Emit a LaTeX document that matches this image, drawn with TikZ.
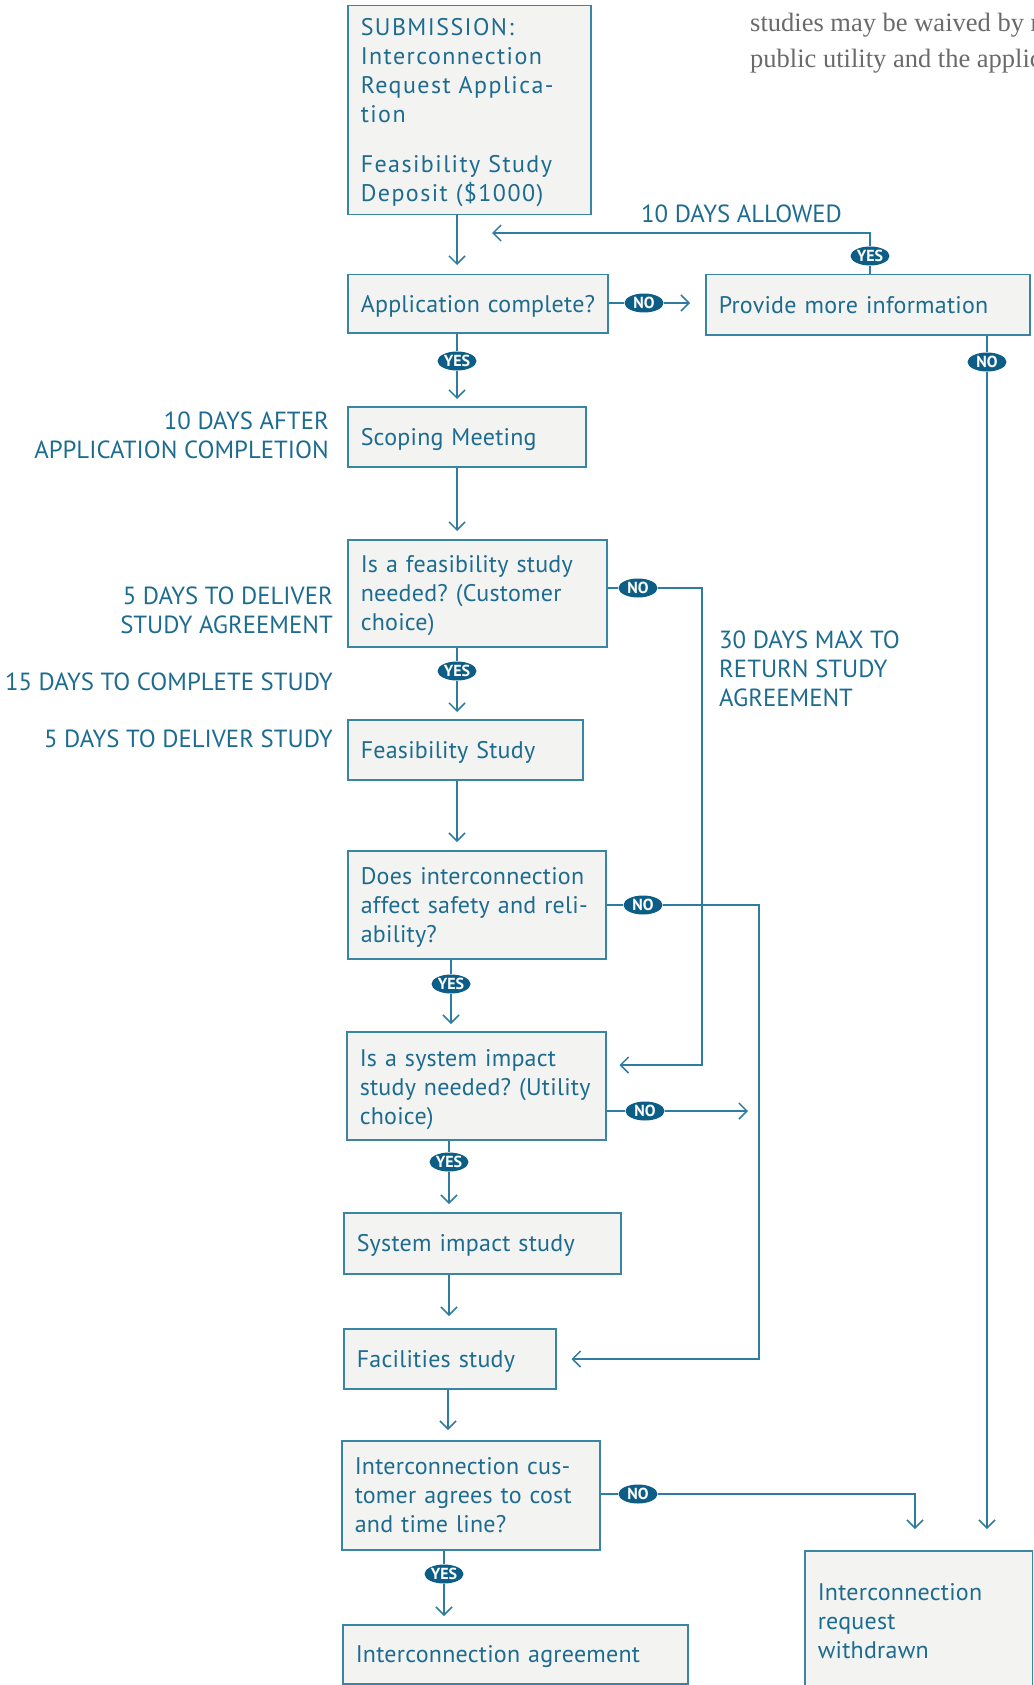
\documentclass[tikz,border=0pt]{standalone}
\usepackage{fontspec}
\setmainfont{PT Sans}
\newfontfamily\boxfont[LetterSpace=1]{PT Sans}
\newfontfamily\boxwidefont[LetterSpace=6]{PT Sans}
\newfontfamily\pageserif{Liberation Serif}
\usetikzlibrary{arrows.meta,shapes.geometric}
\definecolor{flowline}{HTML}{2E7DA0}
\definecolor{flowtext}{HTML}{1D6C90}
\definecolor{flowbadge}{HTML}{0D5E86}
\definecolor{boxfill}{HTML}{F3F3F1}
\definecolor{boxedge}{HTML}{3A84A4}
\definecolor{pagegray}{HTML}{6A6A6A}
\frenchspacing
\begin{document}
\begin{tikzpicture}[x=1pt,y=-1pt,
  flowbox/.style={draw=boxedge, line width=1.5pt, fill=boxfill, rectangle,
    anchor=north west, inner xsep=13pt, inner ysep=0pt, align=left,
    text height=16.8pt, text depth=0pt,
    text=flowtext, font=\boxfont\fontsize{24}{29}\selectfont},
  % depth from the first baseline down to the last one
  rows/.style={text depth=#1},
  badge/.style={ellipse, fill=flowbadge, text=white, inner sep=0pt,
    minimum width=39pt, minimum height=19pt,
    font=\fontsize{16}{16}\selectfont\bfseries},
  link/.style={draw=flowline, line width=1.5pt},
  arr/.style={link, -{Straight Barb[length=8pt,width=16pt,line width=1.5pt]}},
  note/.style={text=flowtext, inner sep=0pt, font=\fontsize{24.8}{29}\selectfont},
  pageline/.style={anchor=base west, inner sep=0pt, text=pagegray,
    font=\pageserif\fontsize{26.5}{37}\selectfont},
]
\useasboundingbox (0,0) rectangle (1033,1685);
\clip (0,0) rectangle (1033,1685);

% running text of the page, cut by the right margin
\node[pageline] (pagetext1) at (750,32) {studies may be waived by mutual};
\node[pageline] (pagetext2) at (750,68) {public utility and the applicant};

% process boxes
\node[flowbox, rows=166pt, font=\boxwidefont\fontsize{24}{29}\selectfont,
      minimum width=243pt, minimum height=209pt, text width=217pt] (b1) at (347,5)
  {SUBMISSION:\\Interconnection\\Request Applica-\\tion\\[21pt]Feasibility Study\\Deposit (\$1000)};
\node[flowbox, minimum width=260pt, minimum height=58pt, text width=234pt] (b2) at (347,274)
  {Application complete?};
\node[flowbox, minimum width=324pt, minimum height=60pt, text width=298pt] (b3) at (705,274)
  {Provide more information};
\node[flowbox, minimum width=238pt, minimum height=60pt, text width=212pt] (b4) at (347,406)
  {Scoping Meeting};
\node[flowbox, rows=58pt, minimum width=259pt, minimum height=107pt, text width=233pt] (b5) at (347,539)
  {Is a feasibility study\\needed? (Customer\\choice)};
\node[flowbox, minimum width=235pt, minimum height=60pt, text width=209pt] (b6) at (347,719)
  {Feasibility Study};
\node[flowbox, rows=58pt, minimum width=258pt, minimum height=108pt, text width=232pt] (b7) at (347,850)
  {Does interconnection\\affect safety and reli-\\ability?};
\node[flowbox, rows=56pt, minimum width=259pt, minimum height=108pt, text width=233pt] (b8) at (346,1031)
  {Is a system impact\\study needed? (Utility\\choice)};
\node[flowbox, minimum width=277pt, minimum height=61pt, text width=251pt] (b9) at (343,1212)
  {System impact study};
\node[flowbox, minimum width=212pt, minimum height=60pt, text width=186pt] (b10) at (343,1328)
  {Facilities study};
\node[flowbox, rows=58pt, minimum width=258pt, minimum height=109pt, text width=232pt] (b11) at (341,1440)
  {Interconnection cus-\\tomer agrees to cost\\and time line?};
\node[flowbox, minimum width=345pt, minimum height=59pt, text width=319pt] (b12) at (342,1624)
  {Interconnection agreement};
\node[flowbox, rows=58pt, minimum width=228pt, minimum height=140pt, text width=202pt] (b13) at (804,1550)
  {Interconnection\\request\\withdrawn};

% decision badges
\node[badge] (y2) at (457,361) {YES};
\node[badge] (n2) at (644,303) {NO};
\node[badge] (y3) at (870,256) {YES};
\node[badge] (n3) at (987,362) {NO};
\node[badge] (y5) at (457,671) {YES};
\node[badge] (n5) at (638,588) {NO};
\node[badge] (y7) at (451,984) {YES};
\node[badge] (n7) at (643,905) {NO};
\node[badge] (y8) at (449,1162) {YES};
\node[badge] (n8) at (645,1111) {NO};
\node[badge] (y11) at (444,1574) {YES};
\node[badge] (n11) at (638,1494) {NO};

% routing points
\coordinate (colA) at (457,0);
\coordinate (colC) at (449,0);
\coordinate (colD) at (448,0);
\coordinate (loopTop) at (870,233);
\coordinate (loopEnd) at (492,233);
\coordinate (fsTurn) at (702,588);
\coordinate (fsDown) at (702,1065);
\coordinate (safeTurn) at (759,905);
\coordinate (safeDown) at (759,1359);
\coordinate (sisEnd) at (748,1111);
\coordinate (agreeTurn) at (915,1494);

% main column
\draw[arr, shorten >=9pt] (b1.south -| colA) -- (b2.north -| colA);
\draw[link] (b2.south -| y2) -- (y2);
\draw[arr, shorten >=7pt] (y2) -- (b4.north -| y2);
\draw[arr, shorten >=8pt] (b4.south -| colA) -- (b5.north -| colA);
\draw[link] (b5.south -| y5) -- (y5);
\draw[arr, shorten >=7pt] (y5) -- (b6.north -| y5);
\draw[arr, shorten >=8pt] (b6.south -| colA) -- (b7.north -| colA);
\draw[link] (b7.south -| y7) -- (y7);
\draw[arr, shorten >=7pt] (y7) -- (b8.north -| y7);
\draw[link] (b8.south -| y8) -- (y8);
\draw[arr, shorten >=8pt] (y8) -- (b9.north -| y8);
\draw[arr, shorten >=12pt] (b9.south -| colC) -- (b10.north -| colC);
\draw[arr, shorten >=10pt] (b10.south -| colD) -- (b11.north -| colD);
\draw[link] (b11.south -| y11) -- (y11);
\draw[arr, shorten >=8pt] (y11) -- (b12.north -| y11);

% application loop
\draw[link] (b2.east |- n2) -- (n2);
\draw[arr, shorten >=15pt] (n2) -- (b3.west |- n2);
\draw[link] (b3.north -| y3) -- (y3);
\draw[arr] (y3) -- (loopTop) -- (loopEnd);
\draw[link] (b3.south -| n3) -- (n3);
\draw[arr, shorten >=21pt] (n3) -- (b13.north -| n3);

% side branches
\draw[link] (b5.east |- n5) -- (n5);
\draw[arr, shorten >=13pt] (n5) -- (fsTurn) -- (fsDown) -- (b8.east |- fsDown);
\draw[link] (b7.east |- n7) -- (n7);
\draw[arr, shorten >=15pt] (n7) -- (safeTurn) -- (safeDown) -- (b10.east |- safeDown);
\draw[link] (b8.east |- n8) -- (n8);
\draw[arr] (n8) -- (sisEnd);
\draw[link] (b11.east |- n11) -- (n11);
\draw[arr, shorten >=21pt] (n11) -- (agreeTurn) -- (b13.north -| agreeTurn);

% timing notes
\node[note, anchor=base west] (tAllowed) at (641,223) {10 DAYS ALLOWED};
\node[note, anchor=north east, align=right] (tScoping) at (329,412)
  {10 DAYS AFTER\\APPLICATION COMPLETION};
\node[note, anchor=north east, align=right] (tAgreement) at (333,587)
  {5 DAYS TO DELIVER\\STUDY AGREEMENT};
\node[note, anchor=base east] (tComplete) at (333,690) {15 DAYS TO COMPLETE STUDY};
\node[note, anchor=base east] (tDeliver) at (333,747) {5 DAYS TO DELIVER STUDY};
\node[note, anchor=north west, align=left] (tReturn) at (719,631)
  {30 DAYS MAX TO\\RETURN STUDY\\AGREEMENT};
\end{tikzpicture}
\end{document}
